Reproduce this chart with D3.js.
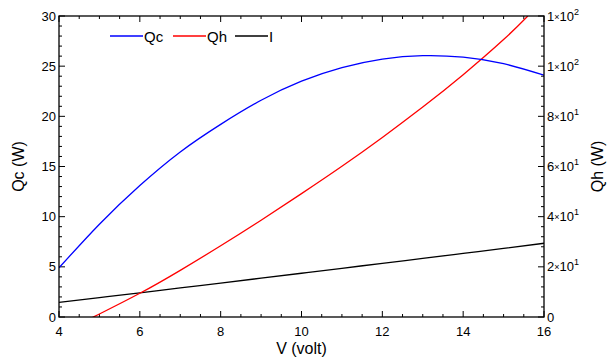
<!DOCTYPE html>
<html><head><meta charset="utf-8">
<script src="https://cdn.jsdelivr.net/npm/d3@7"></script>
<style>body{margin:0;background:#fff}svg{display:block;font-family:"Liberation Sans",Arial,sans-serif}</style>
</head><body><svg id="c" width="608" height="363"></svg>
<script>
// Data
const voltage = [4,5,6,7,8,9,10,11,12,13,14,15,16];
const qc = [4.9,9.25,13.1,16.45,19.2,21.6,23.5,24.85,25.7,26.05,25.9,25.25,24.1];
const current = [1.45,1.93,2.41,2.9,3.38,3.87,4.36,4.85,5.35,5.84,6.34,6.84,7.35];
const qhVoltage = [4.85,5,6,7,8,9,10,11,12,13,14,15,15.6];
const qh = [0,1.2,9.45,18.6,28.4,38.6,49.2,60.1,71.6,83.7,96.6,110.6,120];
const xTicks = [4,6,8,10,12,14,16];
const leftTicks = [0,5,10,15,20,25,30];
const rightTicks = [0,20,40,60,80,100,120];
const rightTickLabels = [["0",null],["2","1"],["4","1"],["6","1"],["8","1"],["1","2"],["1","2"]];
const seriesNames = ["Qc","Qh","I"];
const seriesColors = ["#0000ff","#ff0000","#000000"];

const svg = d3.select("#c");
const L=59, R=544, T=16, B=317;
const x = d3.scaleLinear().domain([4,16]).range([L,R]);
const yL = d3.scaleLinear().domain([0,30]).range([B,T]);
const yR = d3.scaleLinear().domain([0,120]).range([B,T]);

svg.append("clipPath").attr("id","clip").append("rect").attr("x",L).attr("y",T).attr("width",R-L).attr("height",B-T);

// ticks (inward)
const g = svg.append("g").attr("stroke","#000").attr("stroke-width",1);
d3.range(4,16.001,0.5).forEach(v=>{
  const major = Math.abs(v%2)<1e-9;
  const len = major?6:3;
  g.append("line").attr("x1",x(v)).attr("x2",x(v)).attr("y1",B).attr("y2",B-len);
  g.append("line").attr("x1",x(v)).attr("x2",x(v)).attr("y1",T).attr("y2",T+len);
});
d3.range(0,30.001,1).forEach(v=>{
  const len = v%5===0?6:3;
  g.append("line").attr("x1",L).attr("x2",L+len).attr("y1",yL(v)).attr("y2",yL(v));
});
d3.range(0,120.001,4).forEach(v=>{
  const len = v%20===0?6:3;
  g.append("line").attr("x1",R).attr("x2",R-len).attr("y1",yR(v)).attr("y2",yR(v));
});

// lines
const lines = svg.append("g").attr("clip-path","url(#clip)");
const lineQc = d3.line().x((d,i)=>x(voltage[i])).y(d=>yL(d)).curve(d3.curveNatural);
const lineI = d3.line().x((d,i)=>x(voltage[i])).y(d=>yL(d)).curve(d3.curveNatural);
const lineQh = d3.line().x((d,i)=>x(qhVoltage[i])).y(d=>yR(d)).curve(d3.curveNatural);
lines.append("path").attr("d",lineI(current)).attr("fill","none").attr("stroke",seriesColors[2]).attr("stroke-width",1.3);
lines.append("path").attr("d",lineQh(qh)).attr("fill","none").attr("stroke",seriesColors[1]).attr("stroke-width",1.3);
lines.append("path").attr("d",lineQc(qc)).attr("fill","none").attr("stroke",seriesColors[0]).attr("stroke-width",1.3);

// frame
svg.append("rect").attr("x",L).attr("y",T).attr("width",R-L).attr("height",B-T)
  .attr("fill","none").attr("stroke","#000").attr("stroke-width",1.3);

// tick labels
const tl = svg.append("g").attr("font-size",13).attr("fill","#000");
xTicks.forEach(v=>tl.append("text").attr("x",x(v)).attr("y",B+19).attr("text-anchor","middle").text(v));
leftTicks.forEach(v=>tl.append("text").attr("x",L-3).attr("y",yL(v)+4.5).attr("text-anchor","end").text(v));
rightTicks.forEach((v,i)=>{
  const [m,e] = rightTickLabels[i];
  const t = tl.append("text").attr("x",R+3).attr("y",yR(v)+4.5);
  t.append("tspan").text(m);
  if(e){
    t.append("tspan").attr("font-size",9).attr("dy",-1).text("×");
    t.append("tspan").attr("dy",1).text("10");
    t.append("tspan").attr("font-size",9).attr("dy",-6).text(e);
  }
});

// axis titles
svg.append("text").attr("x",(L+R)/2).attr("y",354).attr("text-anchor","middle").attr("font-size",16).text("V (volt)");
svg.append("text").attr("transform",`translate(24,${(T+B)/2}) rotate(-90)`).attr("text-anchor","middle").attr("font-size",16).text("Qc (W)");
svg.append("text").attr("transform",`translate(603,${(T+B)/2}) rotate(-90)`).attr("text-anchor","middle").attr("font-size",16).text("Qh (W)");

// legend
const legX = [110,173,235];
seriesNames.forEach((n,i)=>{
  svg.append("line").attr("x1",legX[i]).attr("x2",legX[i]+33).attr("y1",36).attr("y2",36)
    .attr("stroke",seriesColors[i]).attr("stroke-width",1.3);
  svg.append("text").attr("x",legX[i]+34).attr("y",41.5).attr("font-size",15).text(n);
});
</script></body></html>
